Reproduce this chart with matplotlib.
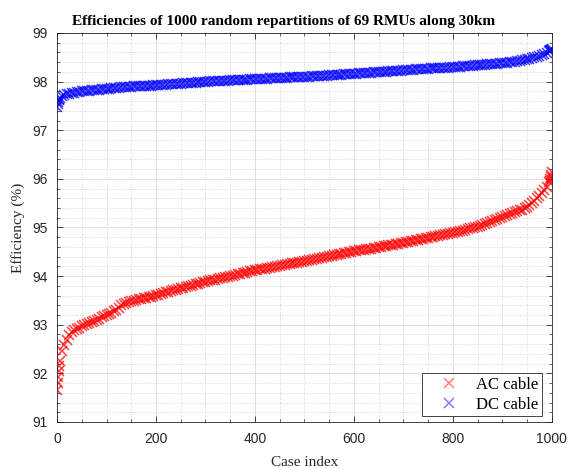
import numpy as np
import matplotlib
matplotlib.use("Agg")
import matplotlib.pyplot as plt
from matplotlib.ticker import MultipleLocator

title = "Efficiencies of 1000 random repartitions of 69 RMUs along 30km"
xlabel = "Case index"
ylabel = "Efficiency (%)"
series_names = ["AC cable", "DC cable"]

case_index = [0, 1, 2, 3, 4] + list(range(5, 996, 5)) + [996, 997, 998, 999, 1000]

ac_eff = [
    91.65, 91.80, 91.93, 92.05, 92.15,
    92.25, 92.47, 92.58, 92.68, 92.78, 92.85, 92.89, 92.92, 92.94, 92.97,
    93.00, 93.02, 93.04, 93.06, 93.08, 93.10, 93.12, 93.15, 93.17, 93.20,
    93.22, 93.25, 93.28, 93.31, 93.35, 93.40, 93.43, 93.45, 93.47, 93.48,
    93.49, 93.50, 93.52, 93.53, 93.54, 93.56, 93.57, 93.58, 93.60, 93.61,
    93.62, 93.64, 93.65, 93.67, 93.68, 93.69, 93.71, 93.72, 93.74, 93.75,
    93.76, 93.78, 93.79, 93.80, 93.82, 93.83, 93.84, 93.86, 93.87, 93.88,
    93.89, 93.91, 93.92, 93.93, 93.95, 93.96, 93.97, 93.98, 93.99, 94.00,
    94.01, 94.03, 94.04, 94.05, 94.06, 94.07, 94.08, 94.10, 94.11, 94.12,
    94.13, 94.14, 94.14, 94.15, 94.16, 94.17, 94.18, 94.19, 94.20, 94.21,
    94.22, 94.23, 94.24, 94.25, 94.26, 94.27, 94.28, 94.29, 94.30, 94.31,
    94.32, 94.33, 94.34, 94.35, 94.36, 94.37, 94.38, 94.39, 94.40, 94.41,
    94.42, 94.43, 94.44, 94.45, 94.46, 94.47, 94.48, 94.49, 94.50, 94.51,
    94.52, 94.53, 94.53, 94.54, 94.55, 94.56, 94.56, 94.57, 94.58, 94.59,
    94.60, 94.61, 94.62, 94.63, 94.64, 94.65, 94.66, 94.67, 94.68, 94.69,
    94.70, 94.71, 94.72, 94.73, 94.74, 94.75, 94.76, 94.77, 94.78, 94.79,
    94.80, 94.81, 94.82, 94.83, 94.84, 94.85, 94.86, 94.87, 94.88, 94.89,
    94.90, 94.91, 94.92, 94.93, 94.95, 94.96, 94.98, 94.99, 95.01, 95.02,
    95.04, 95.05, 95.07, 95.09, 95.11, 95.13, 95.15, 95.17, 95.19, 95.21,
    95.23, 95.25, 95.27, 95.29, 95.31, 95.33, 95.35, 95.37, 95.40, 95.43,
    95.47, 95.51, 95.55, 95.60, 95.65, 95.71, 95.77, 95.84, 95.93,
    95.96, 95.99, 96.03, 96.08, 96.15,
]

dc_eff = [
    97.47, 97.54, 97.59, 97.62, 97.65,
    97.67, 97.70, 97.72, 97.74, 97.75, 97.76, 97.77, 97.78, 97.79, 97.80,
    97.805, 97.81, 97.815, 97.82, 97.825, 97.83, 97.835, 97.84, 97.845, 97.85,
    97.855, 97.86, 97.865, 97.87, 97.875, 97.88, 97.885, 97.89, 97.89, 97.895,
    97.90, 97.90, 97.905, 97.91, 97.91, 97.915, 97.92, 97.92, 97.925, 97.93,
    97.93, 97.935, 97.94, 97.94, 97.945, 97.95, 97.95, 97.955, 97.96, 97.96,
    97.965, 97.97, 97.97, 97.975, 97.98, 97.98, 97.985, 97.99, 97.99, 98.00,
    98.00, 98.005, 98.005, 98.01, 98.01, 98.015, 98.015, 98.02, 98.02, 98.025,
    98.025, 98.03, 98.03, 98.035, 98.035, 98.04, 98.04, 98.045, 98.045, 98.05,
    98.05, 98.055, 98.055, 98.06, 98.06, 98.065, 98.065, 98.07, 98.07, 98.075,
    98.075, 98.08, 98.08, 98.085, 98.085, 98.09, 98.09, 98.095, 98.095, 98.10,
    98.10, 98.105, 98.11, 98.11, 98.115, 98.12, 98.12, 98.125, 98.125, 98.13,
    98.13, 98.135, 98.14, 98.14, 98.145, 98.15, 98.15, 98.155, 98.16, 98.16,
    98.165, 98.17, 98.17, 98.175, 98.18, 98.18, 98.185, 98.19, 98.19, 98.195,
    98.20, 98.20, 98.205, 98.21, 98.21, 98.215, 98.22, 98.22, 98.225, 98.23,
    98.235, 98.24, 98.24, 98.245, 98.25, 98.25, 98.255, 98.26, 98.26, 98.265,
    98.27, 98.27, 98.275, 98.28, 98.28, 98.285, 98.29, 98.29, 98.295, 98.30,
    98.305, 98.31, 98.31, 98.315, 98.32, 98.325, 98.33, 98.33, 98.335, 98.34,
    98.345, 98.35, 98.35, 98.355, 98.36, 98.365, 98.37, 98.37, 98.375, 98.38,
    98.385, 98.39, 98.40, 98.40, 98.41, 98.42, 98.43, 98.44, 98.45, 98.46,
    98.47, 98.48, 98.50, 98.51, 98.53, 98.55, 98.57, 98.59, 98.62,
    98.63, 98.64, 98.65, 98.66, 98.68,
]

x_ticks = [0, 200, 400, 600, 800, 1000]
y_ticks = [91, 92, 93, 94, 95, 96, 97, 98, 99]

fig = plt.figure(figsize=(5.68, 4.68), dpi=100)
ax = fig.add_axes([0.1004, 0.0983, 0.8710, 0.8312])

serif = ["Liberation Serif", "DejaVu Serif"]
sans = ["Liberation Sans", "DejaVu Sans"]
dark = "#262626"

ax.plot(case_index, ac_eff, linestyle="none", marker="x", color="red",
        markersize=6.5, markeredgewidth=1.1, alpha=0.75, label=series_names[0])
ax.plot(case_index, dc_eff, linestyle="none", marker="x", color="blue",
        markersize=6.5, markeredgewidth=1.1, alpha=0.75, label=series_names[1])

ax.set_xlim(0, 1000)
ax.set_ylim(91, 99)
ax.set_xticks(x_ticks)
ax.set_yticks(y_ticks)
ax.xaxis.set_minor_locator(MultipleLocator(50))
ax.yaxis.set_minor_locator(MultipleLocator(0.2))

ax.grid(True, which="major", color="#dcdcdc", linewidth=0.6, linestyle="-")
ax.grid(True, which="minor", color="#c8c8c8", linewidth=0.6, linestyle=(0, (1, 2)))
ax.set_axisbelow(True)

ax.tick_params(which="both", direction="in", top=True, right=True, colors=dark,
               labelsize=10)
ax.tick_params(axis="x", which="major", pad=7.5)
ax.tick_params(axis="y", which="major", pad=6.5)
ax.tick_params(which="major", length=4, width=0.6)
ax.tick_params(which="minor", length=2, width=0.5)
for lbl in ax.get_xticklabels() + ax.get_yticklabels():
    lbl.set_family(sans)
for sp in ax.spines.values():
    sp.set_color(dark)
    sp.set_linewidth(0.6)

fig.text(0.5, 0.955, title, family=serif, fontweight="bold", fontsize=11,
         color="black", ha="center", va="center")
ax.set_xlabel(xlabel, family=serif, fontsize=11, color=dark)
ax.set_ylabel(ylabel, family=serif, fontsize=11, color=dark)
ax.xaxis.set_label_coords(0.5, -0.087)
ax.yaxis.set_label_coords(-0.065, 0.5)

leg = ax.legend(loc="lower right", bbox_to_anchor=(0.9798, 0.0154), borderaxespad=0,
                prop={"family": serif, "size": 12},
                fancybox=False, edgecolor=dark, framealpha=1,
                borderpad=0.2, labelspacing=0.25, handlelength=2.8,
                handletextpad=0.25)
leg.get_frame().set_linewidth(0.6)
for h in leg.legend_handles:
    h.set_alpha(0.5)

fig.savefig("out.png", dpi=100)
